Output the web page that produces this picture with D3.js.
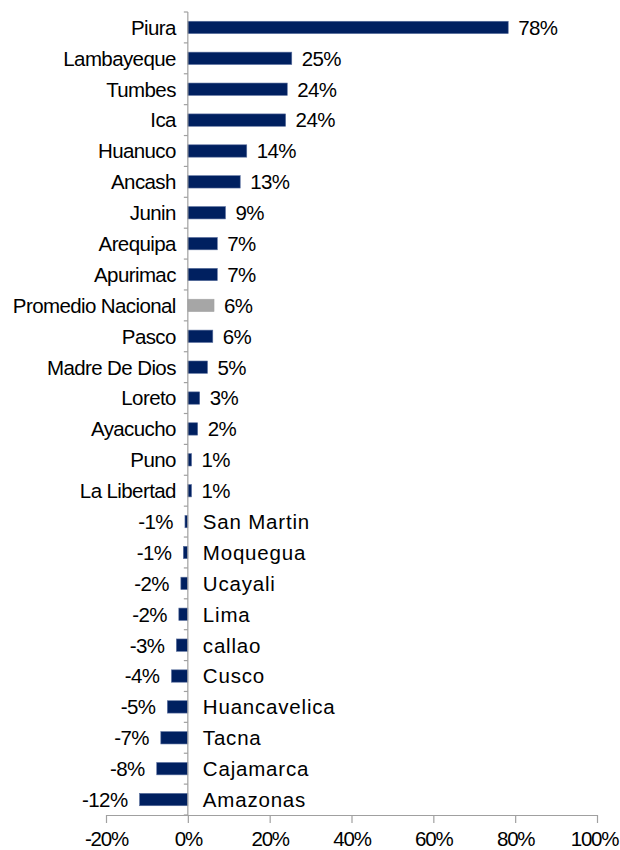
<!DOCTYPE html>
<html>
<head>
<meta charset="utf-8">
<script src="https://cdn.jsdelivr.net/npm/d3@7"></script>
<style>
  body { margin: 0; background: #fff; }
  text { font-family: "Liberation Sans", Arial, sans-serif; fill: #000; }
</style>
</head>
<body>
<div id="container"></div>
<script>
let w = 620;
let h = 850;

// DATA (percent)
let regions = ["Piura", "Lambayeque", "Tumbes", "Ica", "Huanuco", "Ancash", "Junin",
  "Arequipa", "Apurimac", "Promedio Nacional", "Pasco", "Madre De Dios", "Loreto",
  "Ayacucho", "Puno", "La Libertad", "San Martin", "Moquegua", "Ucayali", "Lima",
  "callao", "Cusco", "Huancavelica", "Tacna", "Cajamarca", "Amazonas"];
let values = [78.3, 25.4, 24.3, 23.9, 14.4, 12.8, 9.2, 7.2, 7.2, 6.4, 6.1, 4.8, 2.9,
  2.4, 0.9, 0.9, -0.7, -1.1, -1.7, -2.2, -2.8, -4.0, -5.0, -6.6, -7.6, -11.8];
let xTicks = [-20, 0, 20, 40, 60, 80, 100];
let highlight = "Promedio Nacional";

let data = regions.map(function(r, i){
  return {region: r, value: values[i]};
});

let viz = d3.select("#container").append("svg")
    .attr("width", w)
    .attr("height", h)
    .style("display", "block")
;

// SCALES
let xScale = d3.scaleLinear().domain([-20, 100]).range([106, 597]);
let yScale = d3.scaleBand().domain(regions).range([12, 815]).paddingInner(0.6).paddingOuter(0.3);
let step = yScale.step();
let yTop = 12;
let yBottom = 815;
let x0 = xScale(0);
let fontSize = "20.5px";

// BARS
viz.selectAll(".bar").data(data).enter()
  .append("rect")
    .attr("class", "bar")
    .attr("x", function(d){ return Math.min(xScale(d.value), x0); })
    .attr("y", function(d){ return yScale(d.region); })
    .attr("width", function(d){ return Math.abs(xScale(d.value) - x0); })
    .attr("height", yScale.bandwidth())
    .attr("fill", function(d){ return d.region == highlight ? "#a6a6a6" : "#002060"; })
    .attr("stroke", function(d){ return d.region == highlight ? "#a6a6a6" : "#5a6f9e"; })
    .attr("stroke-width", 0.6)
;

// X AXIS
let xAxis = d3.axisBottom(xScale)
    .tickValues(xTicks)
    .tickSize(8)
    .tickSizeOuter(0)
    .tickPadding(8)
    .tickFormat(function(d){ return d + "%"; });

let xG = viz.append("g")
    .attr("transform", "translate(0," + yBottom + ")")
    .call(xAxis);
xG.select(".domain").attr("stroke", "#a0a0a0").attr("stroke-width", 1.2);
xG.selectAll(".tick line").attr("stroke", "#a0a0a0").attr("stroke-width", 1.2);
xG.selectAll(".tick text")
    .attr("font-size", fontSize)
    .attr("letter-spacing", "-1.2px")
    .attr("dx", function(d){ return d == 100 ? -3 : 0; })
    .attr("font-family", "'Liberation Sans', Arial, sans-serif")
    .attr("fill", "#000");

// Y AXIS (line at zero with category ticks)
viz.append("line")
    .attr("x1", x0).attr("x2", x0)
    .attr("y1", yTop).attr("y2", yBottom)
    .attr("stroke", "#a0a0a0")
    .attr("stroke-width", 1.2);

let bounds = regions.map(function(r){ return yScale(r) - (step - yScale.bandwidth()) / 2; });
bounds.push(bounds[bounds.length - 1] + step);
viz.selectAll(".ytick").data(bounds).enter()
  .append("line")
    .attr("class", "ytick")
    .attr("x1", x0 - 4).attr("x2", x0)
    .attr("y1", function(d){ return d; })
    .attr("y2", function(d){ return d; })
    .attr("stroke", "#a0a0a0")
    .attr("stroke-width", 1.2);

// CATEGORY LABELS
viz.selectAll(".cat").data(data).enter()
  .append("text")
    .attr("class", "cat")
    .attr("x", function(d){ return d.value >= 0 ? x0 - 12 : x0 + 15; })
    .attr("y", function(d){ return yScale(d.region) + yScale.bandwidth() / 2; })
    .attr("dy", "0.36em")
    .attr("text-anchor", function(d){ return d.value >= 0 ? "end" : "start"; })
    .attr("letter-spacing", function(d){ return d.value >= 0 ? "-0.6px" : "0.8px"; })
    .attr("font-size", fontSize)
    .text(function(d){ return d.region; })
;

// VALUE LABELS
viz.selectAll(".val").data(data).enter()
  .append("text")
    .attr("class", "val")
    .attr("x", function(d){ return d.value >= 0 ? xScale(d.value) + 10 : xScale(d.value) - 12; })
    .attr("y", function(d){ return yScale(d.region) + yScale.bandwidth() / 2; })
    .attr("dy", "0.36em")
    .attr("text-anchor", function(d){ return d.value >= 0 ? "start" : "end"; })
    .attr("letter-spacing", "-0.6px")
    .attr("font-size", fontSize)
    .text(function(d){ return Math.round(d.value) + "%"; })
;
</script>
</body>
</html>
